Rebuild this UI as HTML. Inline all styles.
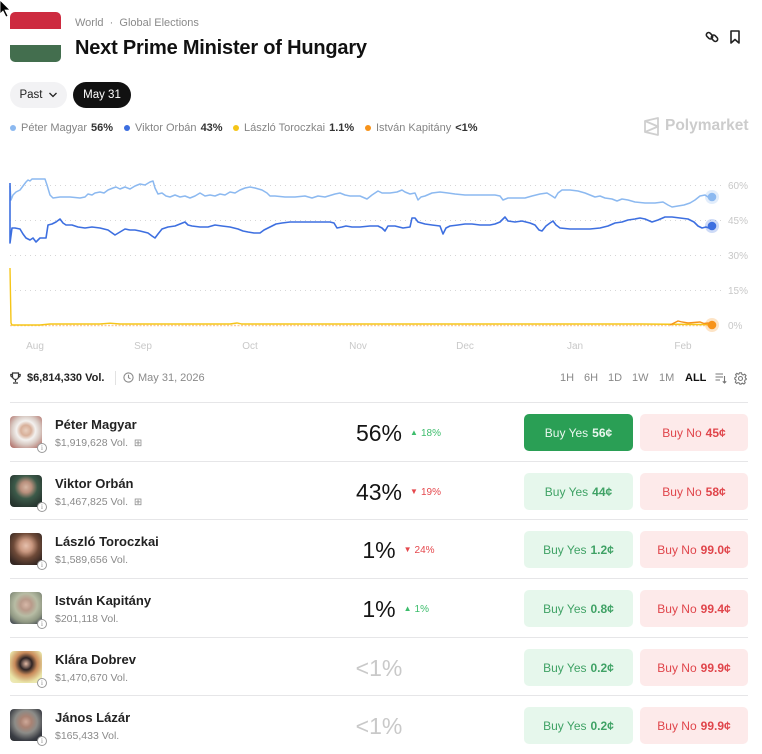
<!DOCTYPE html>
<html><head><meta charset="utf-8"><style>
*{margin:0;padding:0;box-sizing:border-box}
body{width:762px;height:752px;position:relative;overflow:hidden;background:#fff;font-family:"Liberation Sans",Arial,sans-serif;color:#1d1d1f}
.a{position:absolute;white-space:nowrap}
.pill{position:absolute;height:26px;border-radius:13px;font-size:11.5px;display:flex;align-items:center;justify-content:center}
.lg{position:absolute;top:122px;font-size:11px;color:#858585;display:flex;align-items:center;white-space:nowrap}
.lg i{display:inline-block;width:6px;height:6px;border-radius:3px;margin-right:5px}
.lg b{color:#333;margin-left:4px;font-weight:bold}
.tb{position:absolute;top:372px;font-size:11px;color:#8a8a8a}
.row{position:absolute;left:10px;width:738px;height:59px;border-top:1px solid #e6e6e8}
.av{position:absolute;left:0;top:13px;width:32px;height:32px;border-radius:4px;overflow:hidden}
.inf{position:absolute;left:27px;top:40px;width:10px;height:10px;border-radius:50%;background:#fff;border:1px solid #9a9a9a;font-size:7px;line-height:8px;text-align:center;color:#888;font-family:"Liberation Serif",serif}
.nm{position:absolute;left:45px;top:14px;font-size:13px;font-weight:bold;color:#222;white-space:nowrap}
.vl{position:absolute;left:45px;top:34px;font-size:10.5px;color:#8a8a8a;white-space:nowrap}
.pc{position:absolute;left:369px;top:17px;transform:translateX(-50%);font-size:23px;color:#151515;white-space:nowrap}
.ch{position:absolute;left:100%;margin-left:8px;top:8px;font-size:10px;white-space:nowrap}
.ch s{text-decoration:none;font-size:8px;position:relative;top:-1px;margin-right:3px}
.up{color:#3dbd6c}.dn{color:#e5484d}
.by{position:absolute;left:514px;top:11px;width:109px;height:37px;border-radius:5px;background:#e6f7ec;color:#3fa265;font-size:12px;display:flex;align-items:center;justify-content:center;white-space:nowrap}
.bn{position:absolute;left:630px;top:11px;width:108px;height:37px;border-radius:5px;background:#fdeaea;color:#e0454b;font-size:12px;display:flex;align-items:center;justify-content:center;white-space:nowrap}
.by b,.bn b{margin-left:4px}
</style></head><body>

<!-- cursor -->
<svg class="a" style="left:0;top:0" width="12" height="18"><path d="M0,0 L0,14 L3,11 L6,17 L8,16 L5,10 L10,10 Z" fill="#000" stroke="#fff" stroke-width="0.8"/></svg>

<!-- flag -->
<div class="a" style="left:10px;top:12px;width:51px;height:50px;border-radius:5px;overflow:hidden;background:#fff">
<div style="height:17px;background:#cd2b40"></div>
<div style="height:16px;background:#fff"></div>
<div style="height:17px;background:#436e4e"></div>
</div>

<div class="a" style="left:75px;top:17px;font-size:11px;color:#8a8a8a">World &nbsp;·&nbsp; Global Elections</div>
<div class="a" style="left:75px;top:37px;font-size:20px;font-weight:bold;letter-spacing:-0.2px;color:#111">Next Prime Minister of Hungary</div>

<!-- icons -->
<svg class="a" style="left:705px;top:30px" width="14" height="14" viewBox="0 0 14 14"><g fill="none" stroke="#222" stroke-width="1.6"><rect x="1" y="3.5" width="7" height="4.5" rx="2.2" transform="rotate(45 4.5 5.75)"/><rect x="6" y="6" width="7" height="4.5" rx="2.2" transform="rotate(45 9.5 8.25)"/></g></svg>
<svg class="a" style="left:729px;top:30px" width="12" height="14" viewBox="0 0 12 14"><path d="M2,1 H10 V13 L6,9.5 L2,13 Z" fill="none" stroke="#222" stroke-width="1.6" stroke-linejoin="round"/></svg>

<div class="pill" style="left:10px;top:82px;width:57px;background:#f2f2f4;color:#222">Past <svg width="10" height="8" style="margin-left:5px"><path d="M1.5,2 L5,5.5 L8.5,2" fill="none" stroke="#222" stroke-width="1.3"/></svg></div>
<div class="pill" style="left:73px;top:82px;width:58px;background:#111;color:#fff">May 31</div>

<!-- legend -->
<div class="lg" style="left:10px"><i style="background:#8cb9f0"></i>Péter Magyar<b>56%</b></div>
<div class="lg" style="left:124px"><i style="background:#3d6fe0"></i>Viktor Orbán<b>43%</b></div>
<div class="lg" style="left:233px"><i style="background:#f5c518"></i>László Toroczkai<b>1.1%</b></div>
<div class="lg" style="left:365px"><i style="background:#f7931a"></i>István Kapitány<b>&lt;1%</b></div>

<!-- polymarket logo -->
<svg class="a" style="left:643px;top:117px" width="18" height="19" viewBox="0 0 18 19"><g fill="none" stroke="#cfcfcf" stroke-width="1.8" stroke-linejoin="round"><path d="M2,4 L15,1 V18 L2,15 Z"/><path d="M2,4 L15,9.5 L2,15"/></g></svg>
<div class="a" style="left:665px;top:117px;font-size:15.5px;font-weight:bold;color:#cccccc">Polymarket</div>

<!-- chart -->
<svg class="a" style="left:0;top:170px" width="762" height="190" viewBox="0 170 762 190">
<g stroke="#d6d6d6" stroke-width="1" stroke-dasharray="1,4">
<line x1="10" y1="185.5" x2="722" y2="185.5"/>
<line x1="10" y1="220.5" x2="722" y2="220.5"/>
<line x1="10" y1="255.5" x2="722" y2="255.5"/>
<line x1="10" y1="290.5" x2="722" y2="290.5"/>
</g>
<g font-family="Liberation Sans, Arial, sans-serif" font-size="10" fill="#c8c8c8">
<text x="728" y="189">60%</text>
<text x="728" y="224">45%</text>
<text x="728" y="259">30%</text>
<text x="728" y="294">15%</text>
<text x="728" y="329">0%</text>
<g text-anchor="middle">
<text x="35" y="349">Aug</text><text x="143" y="349">Sep</text><text x="250" y="349">Oct</text><text x="358" y="349">Nov</text><text x="465" y="349">Dec</text><text x="575" y="349">Jan</text><text x="683" y="349">Feb</text>
</g></g>
<line x1="10" y1="325.5" x2="712" y2="325.5" stroke="#f7a24a" stroke-width="1.4" stroke-dasharray="2,1.5" opacity="0.55"/>
<polyline fill="none" stroke="#f5c518" stroke-width="1.4" points="10,268 11,323 12,325 40,325 50,324 100,324 110,323.2 120,324 150,324 230,324 237,323 242,324 390,324 540,324 640,324 700,324.5 712,324.5"/>
<polyline fill="none" stroke="#f7931a" stroke-width="1.4" points="670,325 674,323 678,321 682,322 688,323 694,322.5 700,322 704,323.5 708,323 712,325"/>
<polyline fill="none" stroke="#8cb9f0" stroke-width="1.5" stroke-linejoin="round" points="10,186 11,200 13,195 16,192 20,190 23,186 26,182 28,180 30,181 32,179 45,179 47,185 50,195 53,198 60,197 70,197 80,198 85,197 88,194 92,195 95,193 100,192 104,193 108,190 113,188 116,187 120,189 125,187 130,189 135,186 140,184 145,185 150,182 153,181 155,188 158,194 162,193 166,196 170,197 175,195 180,197 185,196 190,198 195,196 200,193 205,196 210,195 215,196 220,194 225,195 230,192 235,193 240,190 245,188 250,187 255,188 262,190 267,193 270,196 275,196 285,197 295,197 305,196 312,198 318,196 325,197 335,194 340,193 345,195 350,196 360,196 367,199 372,195 378,191 382,193 390,193 397,192 402,190 405,192 410,194 415,193 418,200 421,197 425,196 432,193 440,192 448,193 455,194 465,195 480,195 495,195 500,196 503,200 508,198 515,198 525,198 532,196 540,194 547,193 552,196 555,198 558,193 562,190 570,190 578,191 585,193 590,195 595,197 600,196 605,198 612,199 617,201 622,199 628,200 635,202 645,203 655,203 663,202 668,205 672,207 678,206 684,205 690,203 695,200 700,196 705,195 708,197 712,197"/>
<polyline fill="none" stroke="#3d6fe0" stroke-width="1.6" stroke-linejoin="round" points="10,183 10,243 12,228 15,228 20,229 23,234 26,238 30,240 33,238 36,242 40,238 46,238 48,225 52,224 56,222 60,219 63,223 66,225 72,225 78,227 85,228 92,227 100,228 108,230 115,235 120,232 125,229 130,230 135,230 140,231 148,233 152,236 155,238 158,234 162,229 168,227 175,226 180,224 185,222 188,225 192,226 200,227 208,227 215,225 222,226 230,227 238,229 243,231 248,232 254,233 260,233 264,230 270,227 276,224 282,223 290,222 300,222 310,222 320,222 330,222 334,223 337,228 342,227 346,226 352,227 360,227 370,226 378,226 382,228 385,231 388,226 395,226 403,228 410,227 412,218 415,218 418,222 425,224 432,225 440,226 443,234 446,228 450,226 458,225 465,224 472,224 480,225 490,225 495,224 500,222 505,217 508,221 515,222 522,221 530,223 535,225 539,230 542,231 546,226 550,223 553,221 556,225 560,228 570,229 580,229 590,229 600,228 608,226 615,223 622,222 628,220 635,219 640,218 645,219 652,222 658,220 665,217 672,217 680,218 688,219 694,222 698,226 702,228 706,227 709,228 712,226"/>
<circle cx="712" cy="197" r="7" fill="#8cb9f0" opacity="0.25"/><circle cx="712" cy="197" r="4.3" fill="#8cb9f0"/>
<circle cx="712" cy="226" r="7" fill="#3d6fe0" opacity="0.25"/><circle cx="712" cy="226" r="4.3" fill="#3d6fe0"/>
<circle cx="712" cy="325" r="7" fill="#f7931a" opacity="0.25"/><circle cx="712" cy="325" r="4.3" fill="#f7931a"/>
</svg>

<!-- stats bar -->
<svg class="a" style="left:10px;top:372px" width="11" height="12" viewBox="0 0 11 12"><g fill="none" stroke="#333" stroke-width="1.2"><path d="M2.5,1 H8.5 V4.5 A3,3 0 0 1 2.5,4.5 Z"/><path d="M2.5,2.5 H0.8 V3.5 A1.8,1.8 0 0 0 2.6,5"/><path d="M8.5,2.5 H10.2 V3.5 A1.8,1.8 0 0 1 8.4,5"/><path d="M5.5,7.5 V10 M3,11 H8"/></g></svg>
<div class="a" style="left:27px;top:372px;font-size:11px;font-weight:bold;color:#222">$6,814,330 Vol.</div>
<div class="a" style="left:115px;top:371px;width:1px;height:14px;background:#e2e2e2"></div>
<svg class="a" style="left:123px;top:372px" width="11" height="11" viewBox="0 0 11 11"><circle cx="5.5" cy="5.5" r="4.6" fill="none" stroke="#8a8a8a" stroke-width="1.1"/><path d="M5.5,2.8 V5.7 L7.5,6.8" fill="none" stroke="#8a8a8a" stroke-width="1.1"/></svg>
<div class="a" style="left:138px;top:372px;font-size:11px;color:#8a8a8a">May 31, 2026</div>

<div class="tb" style="left:560px">1H</div>
<div class="tb" style="left:584px">6H</div>
<div class="tb" style="left:608px">1D</div>
<div class="tb" style="left:632px">1W</div>
<div class="tb" style="left:659px">1M</div>
<div class="tb" style="left:685px;color:#111;font-weight:bold">ALL</div>
<svg class="a" style="left:715px;top:372px" width="12" height="12" viewBox="0 0 12 12"><g stroke="#777" stroke-width="1.1" fill="none"><path d="M0.5,2 H8 M0.5,5 H8 M0.5,8 H5"/><path d="M9.5,4 V11 M7.8,9.3 L9.5,11 L11.2,9.3"/></g></svg>
<svg class="a" style="left:734px;top:372px" width="13" height="13" viewBox="0 0 13 13"><g fill="none" stroke="#777" stroke-width="1.1"><circle cx="6.5" cy="6.5" r="2"/><path d="M5.5,0.8 H7.5 L7.9,2.4 L9.3,3 L10.7,2.2 L12,3.6 L11.1,5 L11.7,6.4 L12.2,6.5 V7.5 L11,8 L10.5,9.4 L11.2,10.8 L9.9,12 L8.5,11.1 L7.5,11.6 L7.1,12.2 H5.9 L5.4,11.1 L4,10.6 L2.6,11.4 L1.3,10.1 L2.1,8.6 L1.6,7.5 L0.8,7.1 V5.9 L1.9,5.4 L2.4,4 L1.6,2.6 L2.9,1.3 L4.3,2.2 L5.1,1.8 Z"/></g></svg>

<!-- rows -->
<div class="row" style="top:402px">
 <div class="av" style="background:radial-gradient(circle at 50% 45%,#e9d0c0 0,#d8b09a 22%,#f3f1ef 40%,#d9cbc4 60%,#a85c55 100%)"></div><div class="inf">i</div>
 <div class="nm">Péter Magyar</div><div class="vl">$1,919,628 Vol. &nbsp;<span style="font-size:10px">⊞</span></div>
 <div class="pc">56%<span class="ch up"><s>▲</s>18%</span></div>
 <div class="by" style="background:#2a9f55;color:#eaf7ef">Buy Yes <b>56¢</b></div>
 <div class="bn">Buy No <b>45¢</b></div>
</div>
<div class="row" style="top:461px">
 <div class="av" style="background:radial-gradient(circle at 50% 38%,#d6b6a3 0,#b88f7c 22%,#3c5a49 45%,#2a3b33 75%,#1f2a26 100%)"></div><div class="inf">i</div>
 <div class="nm">Viktor Orbán</div><div class="vl">$1,467,825 Vol. &nbsp;<span style="font-size:10px">⊞</span></div>
 <div class="pc">43%<span class="ch dn"><s>▼</s>19%</span></div>
 <div class="by">Buy Yes <b>44¢</b></div>
 <div class="bn">Buy No <b>58¢</b></div>
</div>
<div class="row" style="top:519px">
 <div class="av" style="background:radial-gradient(circle at 50% 40%,#e6c0ad 0,#c8977f 25%,#6e4a38 50%,#3a2a24 80%,#2b2220 100%)"></div><div class="inf">i</div>
 <div class="nm">László Toroczkai</div><div class="vl">$1,589,656 Vol.</div>
 <div class="pc">1%<span class="ch dn"><s>▼</s>24%</span></div>
 <div class="by">Buy Yes <b>1.2¢</b></div>
 <div class="bn">Buy No <b>99.0¢</b></div>
</div>
<div class="row" style="top:578px">
 <div class="av" style="background:radial-gradient(circle at 50% 40%,#d7b8a8 0,#b99a8a 22%,#b7bca4 45%,#8f9782 70%,#2e3445 100%)"></div><div class="inf">i</div>
 <div class="nm">István Kapitány</div><div class="vl">$201,118 Vol.</div>
 <div class="pc">1%<span class="ch up"><s>▲</s>1%</span></div>
 <div class="by">Buy Yes <b>0.8¢</b></div>
 <div class="bn">Buy No <b>99.4¢</b></div>
</div>
<div class="row" style="top:637px">
 <div class="av" style="background:radial-gradient(circle at 50% 40%,#e3b9a4 0,#2e2424 24%,#c98a5a 45%,#e9e4a8 75%,#f0ecc0 100%)"></div><div class="inf">i</div>
 <div class="nm">Klára Dobrev</div><div class="vl">$1,470,670 Vol.</div>
 <div class="pc" style="color:#c9c9c9">&lt;1%</div>
 <div class="by">Buy Yes <b>0.2¢</b></div>
 <div class="bn">Buy No <b>99.9¢</b></div>
</div>
<div class="row" style="top:695px">
 <div class="av" style="background:radial-gradient(circle at 50% 40%,#cfa999 0,#a98273 22%,#8c8c88 45%,#3a3d44 75%,#2a2c30 100%)"></div><div class="inf">i</div>
 <div class="nm">János Lázár</div><div class="vl">$165,433 Vol.</div>
 <div class="pc" style="color:#c9c9c9">&lt;1%</div>
 <div class="by">Buy Yes <b>0.2¢</b></div>
 <div class="bn">Buy No <b>99.9¢</b></div>
</div>

</body></html>
